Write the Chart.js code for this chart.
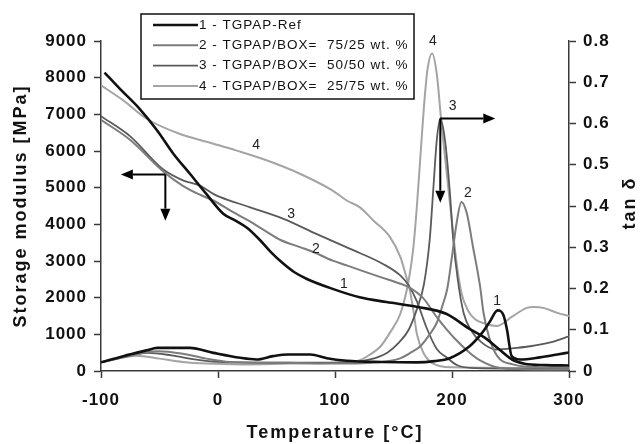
<!DOCTYPE html>
<html>
<head>
<meta charset="utf-8">
<script src="https://cdn.jsdelivr.net/npm/chart.js@4.4.1/dist/chart.umd.min.js"></script>
<style>
  html, body { margin: 0; padding: 0; background: #fff; }
  #wrap { width: 641px; height: 444px; }
</style>
</head>
<body>
<div id="wrap"><canvas id="dma" width="641" height="444"></canvas></div>
<script>
// legend names of the four samples
var sampleNames = ['1 - TGPAP-Ref', '2 - TGPAP/BOX=  75/25 wt. %', '3 - TGPAP/BOX=  50/50 wt. %', '4 - TGPAP/BOX=  25/75 wt. %'];

// storage modulus E' [MPa] vs temperature
var tempE1 = [-97, -84, -67, -52, -38, -24, -10, 4.5, 15, 25, 35, 45, 55, 65, 76, 98, 121, 144, 172, 195, 215, 228, 240, 252, 262, 280, 300];
var storage1 = [8140, 7700, 7150, 6560, 5920, 5380, 4830, 4290, 4100, 3900, 3600, 3250, 2950, 2700, 2510, 2240, 2010, 1880, 1740, 1560, 1150, 910, 600, 300, 200, 160, 150];
var tempE2 = [-100, -75, -47, -30, -15, -4, 13, 25, 42, 53, 70, 82, 98, 110, 127, 139, 156, 163, 175, 187, 195, 204, 215, 224, 240, 260, 300];
var storage2 = [6850, 6300, 5450, 5050, 4800, 4650, 4330, 4120, 3790, 3580, 3380, 3240, 3010, 2880, 2690, 2560, 2380, 2290, 2000, 1470, 1150, 830, 500, 290, 90, 50, 40];
var tempE3 = [-100, -75, -47, -30, -15, -4, 2, 27, 56, 84, 113, 141, 156, 163, 170, 178, 187, 195, 205, 220, 300];
var storage3 = [6950, 6400, 5500, 5200, 5050, 4830, 4740, 4470, 4150, 3740, 3330, 2920, 2600, 2330, 1900, 1200, 600, 380, 150, 80, 60];
var tempE4 = [-100, -81, -61, -33, -4, 16, 42, 70, 98, 110, 121, 133, 147, 156, 161, 164, 167, 170, 176, 184, 200, 300];
var storage4 = [7790, 7380, 6880, 6470, 6200, 6010, 5740, 5380, 4920, 4650, 4470, 4100, 3650, 3100, 2560, 2200, 1650, 1010, 470, 200, 100, 80];

// loss factor tan delta vs temperature
var tempT1 = [-100, -81, -61, -52, -24, -4, 19, 33, 47, 60, 79, 93, 110, 140, 170, 185, 198, 215, 225, 232, 239, 244, 247, 251, 258, 275, 290, 300];
var tan1 = [0.021, 0.036, 0.050, 0.056, 0.056, 0.044, 0.032, 0.028, 0.036, 0.040, 0.040, 0.031, 0.025, 0.022, 0.021, 0.024, 0.031, 0.060, 0.090, 0.118, 0.147, 0.135, 0.100, 0.036, 0.028, 0.033, 0.040, 0.045];
var tempT2 = [-100, -80, -52, -30, -10, 10, 60, 100, 140, 155, 165, 173, 180, 187, 192, 196, 200, 204, 208, 212.6, 218, 224, 227, 231.5, 238.7, 252, 270, 300];
var tan2 = [0.021, 0.034, 0.048, 0.042, 0.030, 0.022, 0.020, 0.018, 0.022, 0.030, 0.045, 0.060, 0.085, 0.117, 0.160, 0.200, 0.278, 0.360, 0.410, 0.383, 0.300, 0.205, 0.140, 0.084, 0.036, 0.016, 0.010, 0.008];
var tempT3 = [-100, -80, -60, -40, -20, 0, 50, 100, 130, 145, 155, 163, 170, 176, 181, 184, 187, 190, 194, 198, 201, 205, 210, 216, 225, 238, 255, 267, 285, 300];
var tan3 = [0.021, 0.035, 0.044, 0.038, 0.028, 0.022, 0.020, 0.020, 0.028, 0.045, 0.070, 0.100, 0.150, 0.210, 0.320, 0.440, 0.560, 0.612, 0.560, 0.440, 0.320, 0.220, 0.140, 0.100, 0.070, 0.052, 0.056, 0.060, 0.070, 0.084];
var tempT4 = [-100, -85, -70, -50, -30, -10, 20, 60, 100, 120, 130, 139, 147, 156, 163, 167, 170, 173, 176, 179, 183, 187, 191, 195.5, 200, 204, 208, 214, 220, 228, 238, 252, 264, 270, 278, 290, 300];
var tan4 = [0.021, 0.030, 0.037, 0.030, 0.022, 0.018, 0.016, 0.018, 0.020, 0.025, 0.040, 0.060, 0.093, 0.140, 0.220, 0.300, 0.400, 0.520, 0.640, 0.730, 0.770, 0.720, 0.600, 0.480, 0.360, 0.260, 0.190, 0.145, 0.125, 0.115, 0.109, 0.133, 0.153, 0.155, 0.153, 0.141, 0.133];

// axis ticks
var tempTicks = [-100, 0, 100, 200, 300];
var storageTicks = [0, 1000, 2000, 3000, 4000, 5000, 6000, 7000, 8000, 9000];
var tanTicks = [0, 0.1, 0.2, 0.3, 0.4, 0.5, 0.6, 0.7, 0.8];

// curve number labels and arrows (placed in data units)
var storageNotes = [['4', 33, 6150], ['3', 63, 4290], ['2', 84, 3330], ['1', 108, 2380]];
var tanNotes = [['4', 184, 0.80], ['3', 201, 0.642], ['2', 214, 0.43], ['1', 239, 0.17]];
var storageArrows = [[-45, 5360, -83, 5360], [-45, 5360, -45, 4100]];
var tanArrows = [[190, 0.612, 237, 0.612], [190, 0.612, 190, 0.408]];

var colors = ['#111111', '#7c7c7c', '#5a5a5a', '#a4a4a4'];
var widths = [2.6, 2, 1.8, 2];

function pts(xs, ys) {
    return xs.map(function (x, i) { return { x: x, y: ys[i] }; });
}

var eSets = [[tempE1, storage1], [tempE2, storage2], [tempE3, storage3], [tempE4, storage4]];
var tSets = [[tempT1, tan1], [tempT2, tan2], [tempT3, tan3], [tempT4, tan4]];
var datasets = [];
for (var i = 0; i < 4; i++) {
    datasets.push({
        label: sampleNames[i] + ' (E\')',
        data: pts(eSets[i][0], eSets[i][1]),
        yAxisID: 'y',
        borderColor: colors[i], borderWidth: widths[i],
        pointRadius: 0, fill: false, cubicInterpolationMode: 'monotone'
    });
    datasets.push({
        label: sampleNames[i] + ' (tan δ)',
        data: pts(tSets[i][0], tSets[i][1]),
        yAxisID: 'y1',
        borderColor: colors[i], borderWidth: widths[i],
        pointRadius: 0, fill: false, cubicInterpolationMode: 'monotone'
    });
}

var tickFont = { family: '"Liberation Sans", Arial, sans-serif', size: 17, weight: 'bold' };
var axisColor = '#3a3a3a';

// letter spacing for everything drawn on the canvas
var spacingPlugin = {
    id: 'spacing',
    beforeDraw: function (chart) { chart.ctx.letterSpacing = '1px'; }
};

function arrow(ctx, x1, y1, x2, y2) {
    var a = Math.atan2(y2 - y1, x2 - x1);
    var hl = 12, hw = 5;
    ctx.beginPath();
    ctx.moveTo(x1, y1);
    ctx.lineTo(x2 - hl * Math.cos(a), y2 - hl * Math.sin(a));
    ctx.stroke();
    ctx.beginPath();
    ctx.moveTo(x2, y2);
    ctx.lineTo(x2 - hl * Math.cos(a) + hw * Math.sin(a), y2 - hl * Math.sin(a) - hw * Math.cos(a));
    ctx.lineTo(x2 - hl * Math.cos(a) - hw * Math.sin(a), y2 - hl * Math.sin(a) + hw * Math.cos(a));
    ctx.closePath();
    ctx.fill();
}

var extrasPlugin = {
    id: 'extras',
    afterDraw: function (chart) {
        var ctx = chart.ctx, sx = chart.scales.x, sy = chart.scales.y, st = chart.scales.y1;
        var area = chart.chartArea;
        ctx.save();
        // curve numbers
        ctx.fillStyle = '#222';
        ctx.font = '14px "Liberation Sans", Arial, sans-serif';
        ctx.textAlign = 'center';
        ctx.textBaseline = 'middle';
        storageNotes.forEach(function (n) { ctx.fillText(n[0], sx.getPixelForValue(n[1]), sy.getPixelForValue(n[2])); });
        tanNotes.forEach(function (n) { ctx.fillText(n[0], sx.getPixelForValue(n[1]), st.getPixelForValue(n[2])); });
        // arrows
        ctx.strokeStyle = '#000';
        ctx.fillStyle = '#000';
        ctx.lineWidth = 2;
        storageArrows.forEach(function (a) {
            arrow(ctx, sx.getPixelForValue(a[0]), sy.getPixelForValue(a[1]), sx.getPixelForValue(a[2]), sy.getPixelForValue(a[3]));
        });
        tanArrows.forEach(function (a) {
            arrow(ctx, sx.getPixelForValue(a[0]), st.getPixelForValue(a[1]), sx.getPixelForValue(a[2]), st.getPixelForValue(a[3]));
        });
        // legend box
        var bx = 141, by = 14, bw = 273, bh = 85;
        ctx.fillStyle = '#fff';
        ctx.fillRect(bx, by, bw, bh);
        ctx.strokeStyle = '#111';
        ctx.lineWidth = 1.5;
        ctx.strokeRect(bx, by, bw, bh);
        ctx.font = '13.5px "Liberation Sans", Arial, sans-serif';
        ctx.textAlign = 'left';
        for (var i = 0; i < sampleNames.length; i++) {
            var ly = by + 11 + i * 20.3;
            ctx.strokeStyle = colors[i];
            ctx.lineWidth = widths[i];
            ctx.beginPath();
            ctx.moveTo(bx + 12, ly);
            ctx.lineTo(bx + 57, ly);
            ctx.stroke();
            ctx.fillStyle = '#111';
            ctx.fillText(sampleNames[i], bx + 58, ly);
        }
        // axis titles
        ctx.fillStyle = '#111';
        ctx.font = 'bold 18px "Liberation Sans", Arial, sans-serif';
        ctx.letterSpacing = '2px';
        ctx.textAlign = 'center';
        ctx.fillText('Temperature [°C]', (area.left + area.right) / 2, 433);
        ctx.save();
        ctx.translate(21, (area.top + area.bottom) / 2);
        ctx.rotate(-Math.PI / 2);
        ctx.fillText('Storage modulus [MPa]', 0, 0);
        ctx.restore();
        ctx.translate(630, (area.top + area.bottom) / 2 - 3);
        ctx.rotate(-Math.PI / 2);
        ctx.fillText('tan δ', 0, 0);
        ctx.restore();
    }
};

var ctx = document.getElementById('dma').getContext('2d');
var grafico = new Chart(ctx, {
    type: 'line',
    data: { datasets: datasets },
    plugins: [spacingPlugin, extrasPlugin],
    options: {
        responsive: false,
        animation: false,
        layout: { padding: { top: 41, left: 0, right: 0, bottom: 0 } },
        plugins: { legend: { display: false }, tooltip: { enabled: false } },
        scales: {
            x: {
                type: 'linear', min: tempTicks[0], max: tempTicks[tempTicks.length - 1],
                afterBuildTicks: function (s) { s.ticks = tempTicks.map(function (v) { return { value: v }; }); },
                ticks: { font: tickFont, color: '#111', padding: 12, maxRotation: 0, callback: function (v) { return String(v); } },
                grid: { drawOnChartArea: false, tickLength: 7, color: axisColor, tickWidth: 1.5 },
                border: { color: axisColor, width: 1.5 },
                afterFit: function (s) { s.height = 73; }
            },
            y: {
                position: 'left', min: 0, max: storageTicks[storageTicks.length - 1],
                afterBuildTicks: function (s) { s.ticks = storageTicks.map(function (v) { return { value: v }; }); },
                ticks: { font: tickFont, color: '#111', padding: 7, callback: function (v) { return String(v); } },
                grid: { drawOnChartArea: false, tickLength: 7, color: axisColor, tickWidth: 1.5 },
                border: { color: axisColor, width: 1.5 },
                afterFit: function (s) { s.width = 101; }
            },
            y1: {
                position: 'right', min: 0, max: tanTicks[tanTicks.length - 1],
                afterBuildTicks: function (s) { s.ticks = tanTicks.map(function (v) { return { value: v }; }); },
                ticks: { font: tickFont, color: '#111', padding: 7, callback: function (v) { return String(v); } },
                grid: { drawOnChartArea: false, tickLength: 7, color: axisColor, tickWidth: 1.5 },
                border: { color: axisColor, width: 1.5 },
                afterFit: function (s) { s.width = 72; }
            }
        }
    }
});
</script>
</body>
</html>
